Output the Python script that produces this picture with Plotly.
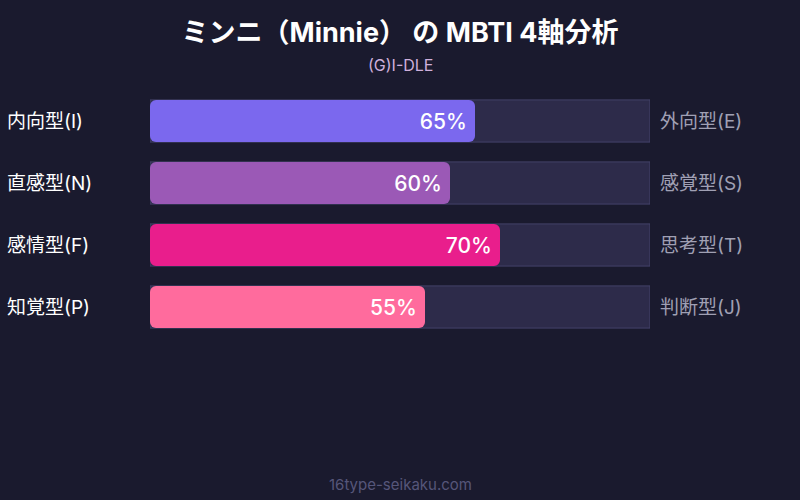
import plotly.graph_objects as go

# MBTI axis data
left_labels = ["内向型(I)", "直感型(N)", "感情型(F)", "知覚型(P)"]
right_labels = ["外向型(E)", "感覚型(S)", "思考型(T)", "判断型(J)"]
values = [65, 60, 70, 55]
bar_colors = ["#7b68ee", "#9b59b6", "#e91e8c", "#ff6b9d"]

BG = "#1a1a2e"
FONT = "Inter, Noto Sans CJK JP, sans-serif"

rows = list(range(len(values)))

fig = go.Figure()

# background track
fig.add_trace(go.Bar(
    x=[100] * len(values), y=rows, orientation="h",
    marker=dict(color="#2d2b4a", line=dict(color="#44426a", width=1)),
    width=0.68, hoverinfo="skip", showlegend=False,
))

# filled part (explicit base so every corner gets rounded)
fig.add_trace(go.Bar(
    x=values, base=[0] * len(values), y=rows, orientation="h",
    marker=dict(color=bar_colors, line=dict(width=0), cornerradius=6),
    width=0.68,
    text=[f"{v}%\u2009" for v in values],
    textposition="inside", insidetextanchor="end",
    textfont=dict(color="white", size=21, family=FONT, weight=500),
    hoverinfo="skip", showlegend=False,
))

annotations = []
for i in rows:
    annotations.append(dict(
        x=-0.29, y=i, xref="paper", yref="y", xanchor="left", yanchor="middle",
        text=left_labels[i], showarrow=False,
        font=dict(color="white", size=19, family=FONT),
    ))
    annotations.append(dict(
        x=1.016, y=i, xref="paper", yref="y", xanchor="left", yanchor="middle",
        text=right_labels[i], showarrow=False,
        font=dict(color="#a0a0b4", size=19, family=FONT),
    ))

annotations.append(dict(
    x=0.5, y=1.1008, xref="paper", yref="paper", xanchor="center", yanchor="middle",
    text="(G)I-DLE", showarrow=False,
    font=dict(color="#cfb0dc", size=16, family=FONT),
))
annotations.append(dict(
    x=0.5, y=-0.589, xref="paper", yref="paper", xanchor="center", yanchor="middle",
    text="16type-seikaku.com", showarrow=False,
    font=dict(color="#56567a", size=15, family=FONT),
))

fig.update_layout(
    width=800, height=500,
    margin=dict(l=150, r=150, t=90, b=162),
    paper_bgcolor=BG, plot_bgcolor=BG,
    barmode="overlay",
    title=dict(
        text="<b>ミンニ（Minnie） の MBTI 4軸分析</b>",
        x=0.5, xanchor="center", y=1 - 33 / 500, yanchor="middle", yref="container",
        font=dict(color="white", size=27, family=FONT),
    ),
    xaxis=dict(range=[0, 100], visible=False, fixedrange=True),
    yaxis=dict(range=[3.5, -0.5], visible=False, fixedrange=True),
    annotations=annotations,
)

fig.write_html(
    "out.html",
    post_script="document.body.style.margin='0';",
    config={"displayModeBar": False},
)
